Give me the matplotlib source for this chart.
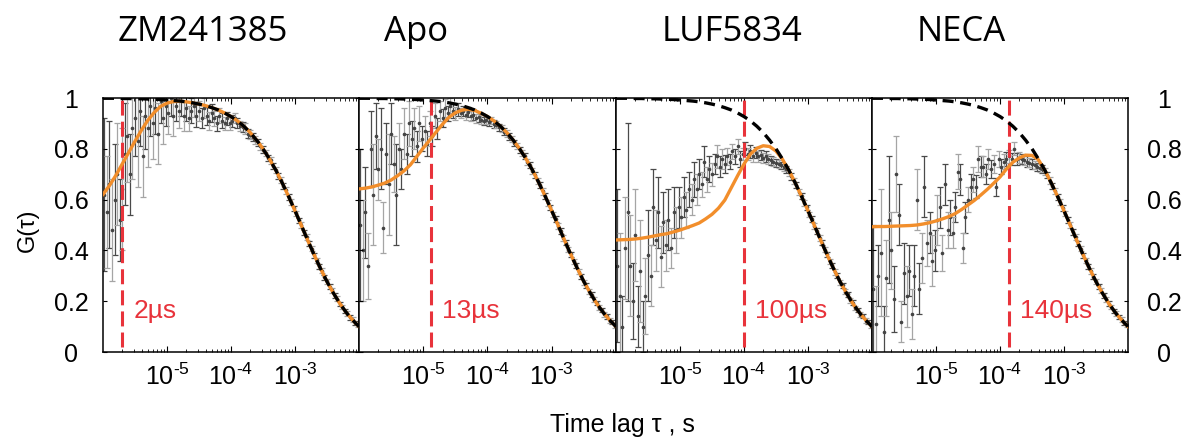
import matplotlib
matplotlib.use('Agg')
import matplotlib.pyplot as plt
import matplotlib.ticker as ticker
import numpy as np

plt.rcParams['font.family'] = ['Liberation Sans', 'DejaVu Sans']
plt.rcParams['mathtext.fontset'] = 'custom'
plt.rcParams['mathtext.rm'] = 'Liberation Sans'
plt.rcParams['mathtext.it'] = 'Liberation Sans:italic'

W, H = 1187, 441

TITLES = ['ZM241385', 'Apo', 'LUF5834', 'NECA']
TITLE_X = [203, 416, 732, 961]
RISE_TIME = [2e-6, 13e-6, 100e-6, 140e-6]
RISE_LABEL = ['2µs', '13µs', '100µs', '140µs']

# log10 of lag time (s)
LOG_LAG = [-5.98, -5.94, -5.90, -5.86, -5.82, -5.78, -5.74, -5.70, -5.66, -5.62,
           -5.58, -5.54, -5.50, -5.46, -5.42, -5.38, -5.34, -5.30, -5.26, -5.22,
           -5.18, -5.14, -5.10, -5.06, -5.02, -4.98, -4.94, -4.90, -4.86, -4.82,
           -4.78, -4.74, -4.70, -4.66, -4.62, -4.58, -4.54, -4.50, -4.46, -4.42,
           -4.38, -4.34, -4.30, -4.26, -4.22, -4.18, -4.14, -4.10, -4.06, -4.02,
           -3.98, -3.94, -3.90, -3.86, -3.82, -3.78, -3.74, -3.70, -3.66, -3.62,
           -3.58, -3.54, -3.50, -3.46, -3.42, -3.38, -3.34, -3.30, -3.26, -3.22,
           -3.18, -3.14, -3.10, -3.06, -3.02, -2.98, -2.94, -2.90, -2.86, -2.82,
           -2.78, -2.74, -2.70, -2.66, -2.62, -2.58, -2.54, -2.50, -2.46, -2.42,
           -2.38, -2.34, -2.30, -2.26, -2.22, -2.18, -2.14, -2.10, -2.06, -2.02]

G_ZM = [0.62, 0.55, 0.66, 0.48, 0.60, 0.70, 0.52, 0.64, 0.78, 0.85,
        0.70, 0.88, 0.92, 0.83, 0.95, 0.77, 0.93, 0.88, 0.97, 0.90,
        0.96, 0.86, 0.99, 0.92, 0.97, 0.94, 1.00, 0.93, 0.97, 0.95,
        0.99, 0.93, 0.96, 0.92, 0.95, 0.97, 0.93, 0.95, 0.92, 0.96,
        0.93, 0.91, 0.94, 0.92, 0.90, 0.93, 0.91, 0.90, 0.92, 0.90,
        0.91, 0.92, 0.90, 0.89, 0.885, 0.88, 0.86, 0.855, 0.845, 0.835,
        0.825, 0.81, 0.797, 0.782, 0.765, 0.754, 0.731, 0.718, 0.693, 0.678,
        0.652, 0.636, 0.609, 0.592, 0.565, 0.546, 0.518, 0.500, 0.471, 0.453,
        0.426, 0.407, 0.380, 0.362, 0.337, 0.320, 0.295, 0.279, 0.257, 0.243,
        0.222, 0.209, 0.189, 0.178, 0.161, 0.151, 0.136, 0.127, 0.114, 0.106]
ERR_ZM = [0.30, 0.22, 0.25, 0.20, 0.22, 0.20, 0.16, 0.24, 0.20, 0.18,
          0.16, 0.20, 0.15, 0.18, 0.14, 0.16, 0.13, 0.15, 0.12, 0.14,
          0.10, 0.12, 0.09, 0.10, 0.08, 0.08, 0.07, 0.08, 0.06, 0.07,
          0.06, 0.06, 0.05, 0.05, 0.05, 0.045, 0.045, 0.04, 0.04, 0.04,
          0.035, 0.035, 0.035, 0.03, 0.03, 0.03, 0.03, 0.025, 0.025, 0.025,
          0.025, 0.02, 0.02, 0.02, 0.02, 0.02, 0.018, 0.018, 0.016, 0.015,
          0.015, 0.014, 0.013, 0.012, 0.012, 0.012, 0.012, 0.012, 0.012, 0.012,
          0.012, 0.012, 0.012, 0.012, 0.011, 0.011, 0.011, 0.011, 0.011, 0.011,
          0.010, 0.010, 0.010, 0.010, 0.010, 0.010, 0.010, 0.010, 0.010, 0.010,
          0.010, 0.010, 0.009, 0.009, 0.009, 0.009, 0.009, 0.009, 0.008, 0.008]

G_APO = [0.50, 0.40, 0.55, 0.34, 0.80, 0.62, 0.85, 0.72, 0.80, 0.49,
         0.78, 0.66, 0.86, 0.74, 0.62, 0.80, 0.72, 0.86, 0.78, 0.90,
         0.84, 0.88, 0.81, 0.90, 0.84, 0.87, 0.82, 0.90, 0.85, 0.93,
         0.88, 0.95, 0.92, 0.96, 0.94, 0.97, 0.95, 0.94, 0.955, 0.94,
         0.95, 0.935, 0.945, 0.93, 0.935, 0.92, 0.925, 0.915, 0.91, 0.915,
         0.905, 0.912, 0.898, 0.895, 0.885, 0.880, 0.868, 0.860, 0.848, 0.838,
         0.824, 0.812, 0.797, 0.783, 0.770, 0.749, 0.736, 0.714, 0.698, 0.674,
         0.657, 0.632, 0.614, 0.588, 0.569, 0.542, 0.523, 0.496, 0.476, 0.449,
         0.430, 0.403, 0.384, 0.358, 0.341, 0.316, 0.299, 0.275, 0.261, 0.239,
         0.226, 0.205, 0.193, 0.175, 0.165, 0.148, 0.140, 0.124, 0.117, 0.103]
ERR_APO = [0.30, 0.20, 0.18, 0.13, 0.15, 0.20, 0.13, 0.12, 0.16, 0.10,
           0.12, 0.20, 0.12, 0.11, 0.20, 0.10, 0.08, 0.10, 0.08, 0.09,
           0.07, 0.08, 0.06, 0.07, 0.05, 0.06, 0.05, 0.05, 0.04, 0.05,
           0.04, 0.04, 0.035, 0.035, 0.03, 0.03, 0.03, 0.025, 0.025, 0.02,
           0.02, 0.02, 0.02, 0.02, 0.02, 0.018, 0.018, 0.018, 0.016, 0.016,
           0.016, 0.015, 0.015, 0.015, 0.014, 0.014, 0.014, 0.013, 0.013, 0.013,
           0.012, 0.012, 0.012, 0.012, 0.012, 0.012, 0.012, 0.012, 0.012, 0.012,
           0.012, 0.012, 0.012, 0.012, 0.011, 0.011, 0.011, 0.011, 0.011, 0.011,
           0.010, 0.010, 0.010, 0.010, 0.010, 0.010, 0.010, 0.010, 0.010, 0.010,
           0.010, 0.010, 0.009, 0.009, 0.009, 0.009, 0.009, 0.009, 0.008, 0.008]

G_LUF = [0.34, 0.22, 0.10, 0.41, 0.55, 0.34, 0.20, 0.46, 0.14, 0.32,
         0.10, 0.22, 0.38, 0.30, 0.57, 0.44, 0.55, 0.375, 0.51, 0.42,
         0.52, 0.41, 0.55, 0.48, 0.57, 0.53, 0.61, 0.56, 0.64, 0.60,
         0.68, 0.64, 0.70, 0.66, 0.75, 0.68, 0.72, 0.70, 0.74, 0.77,
         0.73, 0.76, 0.74, 0.77, 0.75, 0.79, 0.77, 0.81, 0.76, 0.78,
         0.80, 0.78, 0.79, 0.77, 0.785, 0.77, 0.775, 0.765, 0.77, 0.76,
         0.755, 0.75, 0.745, 0.74, 0.735, 0.727, 0.72, 0.708, 0.692, 0.673,
         0.657, 0.631, 0.614, 0.587, 0.569, 0.541, 0.523, 0.495, 0.477, 0.448,
         0.431, 0.402, 0.385, 0.357, 0.342, 0.315, 0.300, 0.274, 0.262, 0.238,
         0.227, 0.204, 0.194, 0.174, 0.166, 0.147, 0.141, 0.123, 0.118, 0.102]
ERR_LUF = [0.30, 0.25, 0.12, 0.20, 0.35, 0.20, 0.15, 0.18, 0.12, 0.20,
           0.10, 0.15, 0.18, 0.12, 0.15, 0.12, 0.14, 0.12, 0.12, 0.10,
           0.12, 0.08, 0.10, 0.09, 0.08, 0.08, 0.08, 0.07, 0.07, 0.06,
           0.07, 0.06, 0.06, 0.05, 0.06, 0.05, 0.05, 0.045, 0.04, 0.045,
           0.04, 0.04, 0.035, 0.035, 0.03, 0.03, 0.03, 0.03, 0.03, 0.025,
           0.025, 0.025, 0.025, 0.022, 0.022, 0.02, 0.02, 0.02, 0.02, 0.018,
           0.018, 0.018, 0.016, 0.016, 0.015, 0.015, 0.014, 0.014, 0.013, 0.013,
           0.012, 0.012, 0.012, 0.012, 0.011, 0.011, 0.011, 0.011, 0.011, 0.011,
           0.010, 0.010, 0.010, 0.010, 0.010, 0.010, 0.010, 0.010, 0.010, 0.010,
           0.010, 0.010, 0.009, 0.009, 0.009, 0.009, 0.009, 0.009, 0.008, 0.008]

G_NECA = [0.25, 0.11, 0.30, 0.39, 0.08, 0.29, 0.52, 0.40, 0.21, 0.70,
          0.54, 0.12, 0.31, 0.22, 0.32, 0.15, 0.30, 0.60, 0.25, 0.37,
          0.65, 0.43, 0.47, 0.36, 0.40, 0.52, 0.57, 0.39, 0.66, 0.48,
          0.53, 0.47, 0.57, 0.71, 0.68, 0.41, 0.53, 0.60, 0.65, 0.68,
          0.65, 0.76, 0.73, 0.73, 0.70, 0.76, 0.72, 0.74, 0.65, 0.76,
          0.73, 0.75, 0.76, 0.77, 0.76, 0.80, 0.76, 0.765, 0.76, 0.755,
          0.75, 0.745, 0.74, 0.735, 0.73, 0.725, 0.72, 0.71, 0.697, 0.675,
          0.654, 0.635, 0.611, 0.591, 0.566, 0.545, 0.520, 0.499, 0.473, 0.452,
          0.427, 0.406, 0.381, 0.361, 0.338, 0.319, 0.296, 0.278, 0.258, 0.242,
          0.223, 0.208, 0.190, 0.178, 0.162, 0.151, 0.137, 0.127, 0.114, 0.106]
ERR_NECA = [0.25, 0.15, 0.12, 0.25, 0.10, 0.15, 0.25, 0.15, 0.13, 0.15,
            0.12, 0.08, 0.12, 0.12, 0.10, 0.10, 0.12, 0.12, 0.10, 0.10,
            0.12, 0.09, 0.08, 0.10, 0.08, 0.10, 0.08, 0.07, 0.08, 0.07,
            0.07, 0.06, 0.06, 0.07, 0.06, 0.06, 0.06, 0.05, 0.05, 0.05,
            0.045, 0.05, 0.04, 0.04, 0.04, 0.04, 0.035, 0.035, 0.035, 0.03,
            0.03, 0.03, 0.028, 0.025, 0.025, 0.025, 0.022, 0.022, 0.02, 0.02,
            0.02, 0.018, 0.018, 0.016, 0.016, 0.015, 0.015, 0.014, 0.013, 0.013,
            0.012, 0.012, 0.012, 0.012, 0.011, 0.011, 0.011, 0.011, 0.011, 0.011,
            0.010, 0.010, 0.010, 0.010, 0.010, 0.010, 0.010, 0.010, 0.010, 0.010,
            0.010, 0.010, 0.009, 0.009, 0.009, 0.009, 0.009, 0.009, 0.008, 0.008]

# fitted curves, sampled every 0.1 decade
CURVE_LOG = [-6.0, -5.9, -5.8, -5.7, -5.6, -5.5, -5.4, -5.3, -5.2, -5.1,
             -5.0, -4.9, -4.8, -4.7, -4.6, -4.5, -4.4, -4.3, -4.2, -4.1,
             -4.0, -3.9, -3.8, -3.7, -3.6, -3.5, -3.4, -3.3, -3.2, -3.1,
             -3.0, -2.9, -2.8, -2.7, -2.6, -2.5, -2.4, -2.3, -2.2, -2.1, -2.0]
DIFFUSION = [0.999, 0.999, 0.999, 0.998, 0.998, 0.997, 0.997, 0.996, 0.995, 0.994,
             0.992, 0.990, 0.988, 0.985, 0.981, 0.976, 0.970, 0.962, 0.953, 0.941,
             0.927, 0.910, 0.889, 0.864, 0.834, 0.800, 0.760, 0.716, 0.666, 0.612,
             0.556, 0.498, 0.439, 0.382, 0.328, 0.277, 0.232, 0.191, 0.156, 0.126, 0.100]
FIT_ZM = [0.62, 0.655, 0.695, 0.74, 0.785, 0.83, 0.873, 0.912, 0.943, 0.967,
          0.98, 0.986, 0.987, 0.985, 0.981, 0.976, 0.970, 0.962, 0.953, 0.941,
          0.927, 0.910, 0.889, 0.864, 0.834, 0.800, 0.760, 0.716, 0.666, 0.612,
          0.556, 0.498, 0.439, 0.382, 0.328, 0.277, 0.232, 0.191, 0.156, 0.126, 0.100]
FIT_APO = [0.642, 0.645, 0.650, 0.657, 0.665, 0.677, 0.694, 0.713, 0.737, 0.770,
           0.803, 0.834, 0.866, 0.897, 0.924, 0.942, 0.952, 0.956, 0.951, 0.940,
           0.927, 0.910, 0.889, 0.864, 0.834, 0.800, 0.760, 0.716, 0.666, 0.612,
           0.556, 0.498, 0.439, 0.382, 0.328, 0.277, 0.232, 0.191, 0.156, 0.126, 0.100]
FIT_LUF = [0.441, 0.442, 0.443, 0.445, 0.448, 0.452, 0.457, 0.462, 0.466, 0.473,
           0.480, 0.489, 0.498, 0.508, 0.524, 0.542, 0.566, 0.598, 0.646, 0.694,
           0.740, 0.779, 0.802, 0.812, 0.809, 0.791, 0.759, 0.716, 0.666, 0.612,
           0.556, 0.498, 0.439, 0.382, 0.328, 0.277, 0.232, 0.191, 0.156, 0.126, 0.100]
FIT_NECA = [0.493, 0.494, 0.494, 0.495, 0.496, 0.497, 0.498, 0.500, 0.504, 0.509,
            0.516, 0.524, 0.533, 0.545, 0.561, 0.579, 0.597, 0.618, 0.640, 0.664,
            0.689, 0.720, 0.747, 0.764, 0.775, 0.774, 0.757, 0.716, 0.666, 0.612,
            0.556, 0.498, 0.439, 0.382, 0.328, 0.277, 0.232, 0.191, 0.156, 0.126, 0.100]

DATA = [G_ZM, G_APO, G_LUF, G_NECA]
ERRS = [ERR_ZM, ERR_APO, ERR_LUF, ERR_NECA]
FITS = [FIT_ZM, FIT_APO, FIT_LUF, FIT_NECA]

RED = '#e8333b'
ORANGE = '#f28e2b'

fig = plt.figure(figsize=(W / 100, H / 100), dpi=100)
edges = [103, 359, 616, 872, 1128]
lag = 10 ** np.array(LOG_LAG)
clag = 10 ** np.array(CURVE_LOG)

for k in range(4):
    ax = fig.add_axes([edges[k] / W, 1 - 352 / H, (edges[k + 1] - edges[k]) / W, 254 / H])
    g = np.array(DATA[k])
    e = np.array(ERRS[k])

    # two grey shades for the error bars, like the original
    for sl, col in [(slice(0, None, 2), '#4a4a4a'), (slice(1, None, 2), '#a5a5a5')]:
        ax.errorbar(lag[sl], g[sl], yerr=e[sl], fmt='o', ms=1.6, mfc='#444444', mec='#444444',
                    ecolor=col, elinewidth=0.9, capsize=2.5, capthick=0.9, zorder=1)

    ax.axvline(RISE_TIME[k], ymin=0.02, ymax=1.0, color=RED, lw=2.2, dashes=(4.9, 2.0), zorder=2)
    ax.plot(clag, FITS[k], color=ORANGE, lw=2.4, zorder=3)
    ax.plot(clag, DIFFUSION, color='black', lw=2.4, dashes=(3.3, 2.0), zorder=4)

    ax.annotate(RISE_LABEL[k], xy=(RISE_TIME[k], 0.135), xytext=(8, 0), textcoords='offset points',
                color=RED, fontsize=19, va='baseline', ha='left')

    ax.set_xscale('log')
    ax.set_xlim(1e-6, 1e-2)
    ax.set_ylim(0, 1)

    ax.xaxis.set_major_locator(ticker.FixedLocator([1e-5, 1e-4, 1e-3]))
    ax.xaxis.set_major_formatter(ticker.FixedFormatter(['$10^{\u20105}$', '$10^{\u20104}$', '$10^{\u20103}$']))
    ax.xaxis.set_minor_locator(ticker.LogLocator(base=10, subs=np.arange(2, 10), numticks=20))
    ax.xaxis.set_minor_formatter(ticker.NullFormatter())
    ax.tick_params(axis='x', which='both', direction='in', top=True, bottom=True)
    ax.tick_params(axis='x', which='major', length=4, width=0.8, labelsize=18, pad=8)
    ax.tick_params(axis='x', which='minor', length=2.5, width=0.6)

    ax.set_yticks([0, 0.2, 0.4, 0.6, 0.8, 1.0])
    ax.set_yticklabels(['0', '0.2', '0.4', '0.6', '0.8', '1'])
    ax.tick_params(axis='y', direction='in', left=True, right=True, length=3, width=0.8,
                   labelleft=(k == 0), labelright=(k == 3), labelsize=18)
    if k == 0:
        ax.tick_params(axis='y', pad=23)
        for t in ax.yaxis.get_major_ticks():
            t.label1.set_ha('center')
    if k == 3:
        ax.tick_params(axis='y', pad=26)
        for t in ax.yaxis.get_major_ticks():
            t.label2.set_ha('center')

    for sp in ax.spines.values():
        sp.set_linewidth(1.1)

    fig.text(TITLE_X[k] / W, 1 - 32 / H, TITLES[k], ha='center', va='center',
             fontsize=25, family=['Open Sans', 'DejaVu Sans'])

fig.text(622 / W, 1 - 425 / H, 'Time lag τ , s', ha='center', va='center', fontsize=18)
fig.text(28 / W, 1 - 230 / H, 'G(τ)', ha='center', va='center', rotation=90, fontsize=17)

fig.savefig('out.png', dpi=100)
